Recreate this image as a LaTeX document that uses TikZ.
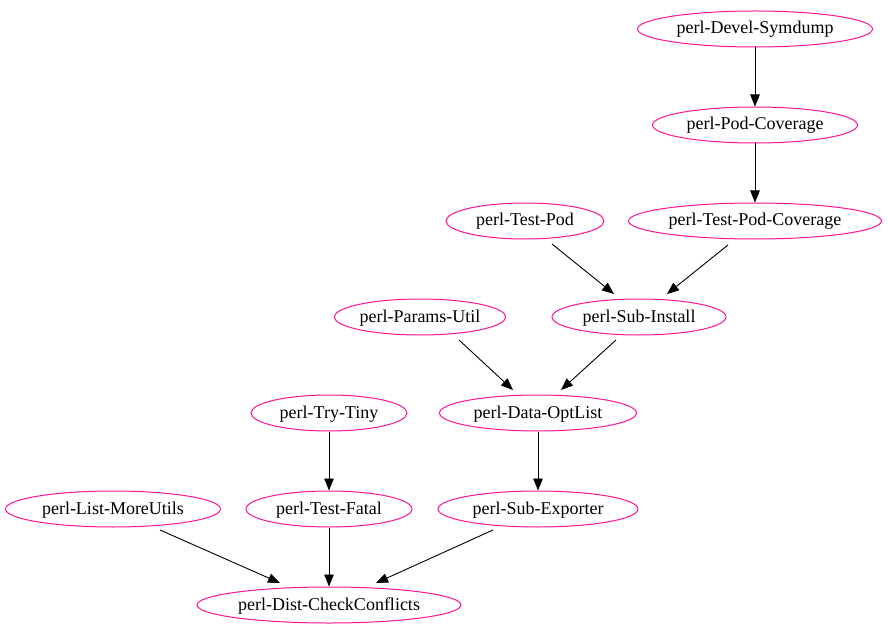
\documentclass[tikz,border=0pt]{standalone}
\usepackage{fontspec}
\setmainfont{Liberation Serif}
\usetikzlibrary{shapes.geometric,arrows.meta,calc}
\definecolor{dpink}{HTML}{FF1493}
\begin{document}
\begin{tikzpicture}[x=1bp,y=-1bp,
  pkg/.style={ellipse,draw=dpink,line width=1bp,inner sep=0pt,minimum height=36bp,text height=12bp,text depth=2bp,font=\fontsize{18bp}{20bp}\selectfont},
  dep/.style={draw=black,line width=0.9bp,-{Triangle[length=12bp,width=9.5bp]}}]
\useasboundingbox (0,0) rectangle (888,635);
\node[pkg,minimum width=235bp] (ds) at (755,29) {perl-Devel-Symdump};
\node[pkg,minimum width=205bp] (pc) at (755,125) {perl-Pod-Coverage};
\node[pkg,minimum width=158bp] (tp) at (525,221) {perl-Test-Pod};
\node[pkg,minimum width=253bp] (tpc) at (755,221) {perl-Test-Pod-Coverage};
\node[pkg,minimum width=158bp] (pu) at (420,317) {perl-Params-Util};
\node[pkg,minimum width=174bp] (si) at (639,317) {perl-Sub-Install};
\node[pkg,minimum width=156bp] (tt) at (329,413) {perl-Try-Tiny};
\node[pkg,minimum width=197bp] (do) at (538,413) {perl-Data-OptList};
\node[pkg,minimum width=215bp] (lm) at (113,509) {perl-List-MoreUtils};
\node[pkg,minimum width=166bp] (tf) at (329,509) {perl-Test-Fatal};
\node[pkg,minimum width=200bp] (se) at (538,509) {perl-Sub-Exporter};
\node[pkg,minimum width=264bp] (dc) at (329,605) {perl-Dist-CheckConflicts};
\draw[dep] (ds.south) -- (pc.north);
\draw[dep] (pc.south) -- (tpc.north);
\draw[dep] ($(tp.center)+(27,23)$) -- ($(si.center)+(-25,-23)$);
\draw[dep] ($(tpc.center)+(-27,24)$) -- ($(si.center)+(28,-23)$);
\draw[dep] ($(pu.center)+(39,23)$) -- ($(do.center)+(-25,-23)$);
\draw[dep] ($(si.center)+(-23,23)$) -- ($(do.center)+(23,-23)$);
\draw[dep] (tt.south) -- (tf.north);
\draw[dep] (do.south) -- (se.north);
\draw[dep] ($(lm.center)+(47,21)$) -- ($(dc.center)+(-49,-22)$);
\draw[dep] (tf.south) -- (dc.north);
\draw[dep] ($(se.center)+(-45,21)$) -- ($(dc.center)+(47,-22)$);
\end{tikzpicture}
\end{document}
